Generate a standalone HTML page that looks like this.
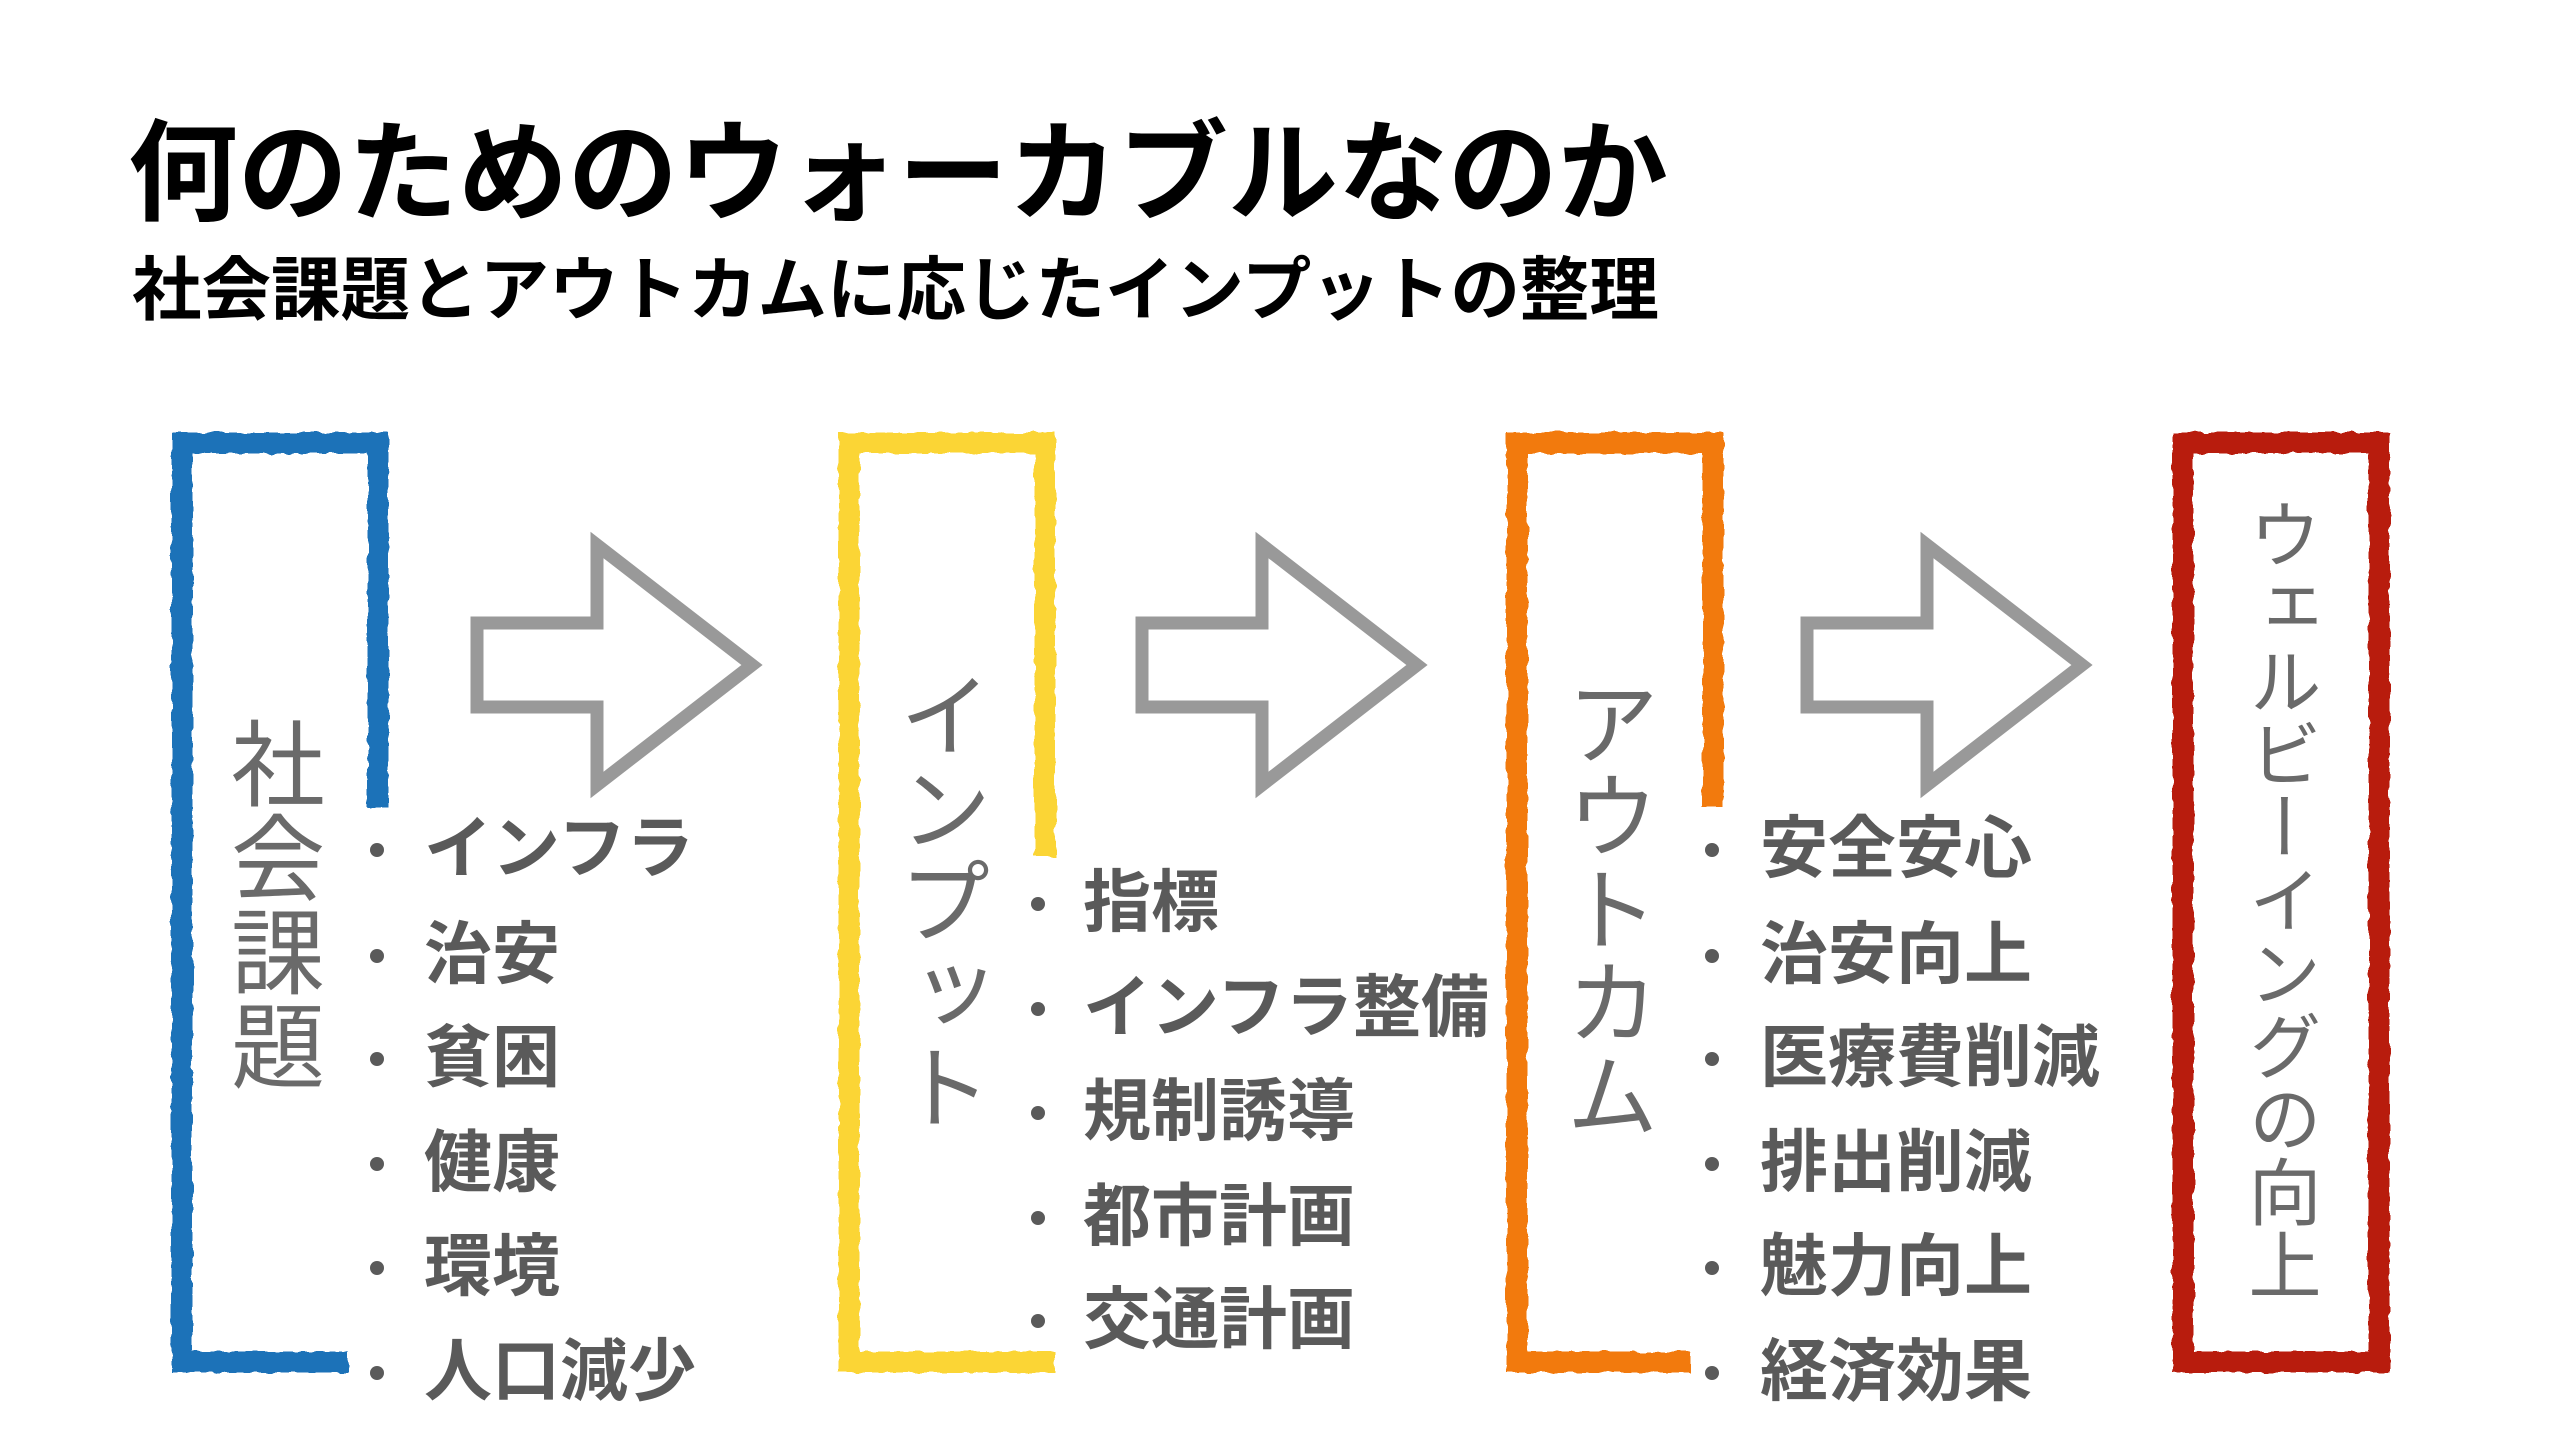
<!DOCTYPE html>
<html><head><meta charset="utf-8">
<style>
body{margin:0;width:2560px;height:1440px;background:#fff;position:relative;overflow:hidden;font-family:"Liberation Sans","Noto Sans CJK JP",sans-serif;}
.t{position:absolute;white-space:nowrap;line-height:1;}
.v{position:absolute;writing-mode:vertical-rl;line-height:1;color:#6a6a6a;font-weight:400;white-space:nowrap;}
.b{position:absolute;font-size:68px;font-weight:700;color:#5a5a5a;line-height:1;white-space:nowrap;}
.d{position:absolute;width:14px;height:14px;border-radius:50%;background:#5a5a5a;}
</style></head><body>
<div class="t" style="left:128px;top:120px;font-size:110px;font-weight:700;color:#000;">何のためのウォーカブルなのか</div>
<div class="t" style="left:132px;top:256px;font-size:69.5px;font-weight:700;color:#000;">社会課題とアウトカムに応じたインプットの整理</div>

<svg width="2560" height="1440" style="position:absolute;left:0;top:0">
<defs><filter id="r"><feTurbulence type="fractalNoise" baseFrequency="0.08" numOctaves="2" result="n"/><feDisplacementMap in="SourceGraphic" in2="n" scale="6"/></filter></defs>
<g fill="none" stroke-width="21" filter="url(#r)" stroke-linejoin="miter">
<polyline stroke="#1b72b8" points="378,808 378,443 182,443 182,1362 348,1362"/>
<polyline stroke="#fbd535" points="1045,857 1045,443 849,443 849,1362 1055,1362"/>
<polyline stroke="#f27a0c" points="1713,808 1713,443 1517,443 1517,1362 1690,1362"/>
<rect stroke="#b81c0c" x="2183" y="443" width="196" height="919"/>
</g>
<g fill="none" stroke="#999" stroke-width="13" stroke-linejoin="miter">
<polygon points="477,623 597,623 597,545 752,665 597,785 597,707 477,707"/>
<polygon points="1142,623 1262,623 1262,545 1417,665 1262,785 1262,707 1142,707"/>
<polygon points="1807,623 1927,623 1927,545 2082,665 1927,785 1927,707 1807,707"/>
</g>
</svg>

<div class="v" style="left:223px;top:716px;font-size:94px;">社会課題</div>
<div class="v" style="left:890px;top:668px;font-size:93px;">インプット</div>
<div class="v" style="left:1557px;top:676px;font-size:93px;">アウトカム</div>
<div class="v" style="left:2242px;top:498px;font-size:73px;">ウェルビーイングの向上</div>

<div class="d" style="left:370px;top:843px"></div><div class="b" style="left:424px;top:815px">インフラ</div>
<div class="d" style="left:370px;top:949px"></div><div class="b" style="left:424px;top:921px">治安</div>
<div class="d" style="left:370px;top:1052px"></div><div class="b" style="left:424px;top:1024px">貧困</div>
<div class="d" style="left:370px;top:1157px"></div><div class="b" style="left:424px;top:1129px">健康</div>
<div class="d" style="left:370px;top:1261px"></div><div class="b" style="left:424px;top:1233px">環境</div>
<div class="d" style="left:370px;top:1366px"></div><div class="b" style="left:424px;top:1338px">人口減少</div>

<div class="d" style="left:1031px;top:897px"></div><div class="b" style="left:1083px;top:869px">指標</div>
<div class="d" style="left:1031px;top:1002px"></div><div class="b" style="left:1083px;top:974px">インフラ整備</div>
<div class="d" style="left:1031px;top:1106px"></div><div class="b" style="left:1083px;top:1078px">規制誘導</div>
<div class="d" style="left:1031px;top:1211px"></div><div class="b" style="left:1083px;top:1183px">都市計画</div>
<div class="d" style="left:1031px;top:1314px"></div><div class="b" style="left:1083px;top:1286px">交通計画</div>

<div class="d" style="left:1705px;top:843px"></div><div class="b" style="left:1760px;top:815px">安全安心</div>
<div class="d" style="left:1705px;top:949px"></div><div class="b" style="left:1760px;top:921px">治安向上</div>
<div class="d" style="left:1705px;top:1052px"></div><div class="b" style="left:1760px;top:1024px">医療費削減</div>
<div class="d" style="left:1705px;top:1157px"></div><div class="b" style="left:1760px;top:1129px">排出削減</div>
<div class="d" style="left:1705px;top:1261px"></div><div class="b" style="left:1760px;top:1233px">魅力向上</div>
<div class="d" style="left:1705px;top:1366px"></div><div class="b" style="left:1760px;top:1338px">経済効果</div>
</body></html>
